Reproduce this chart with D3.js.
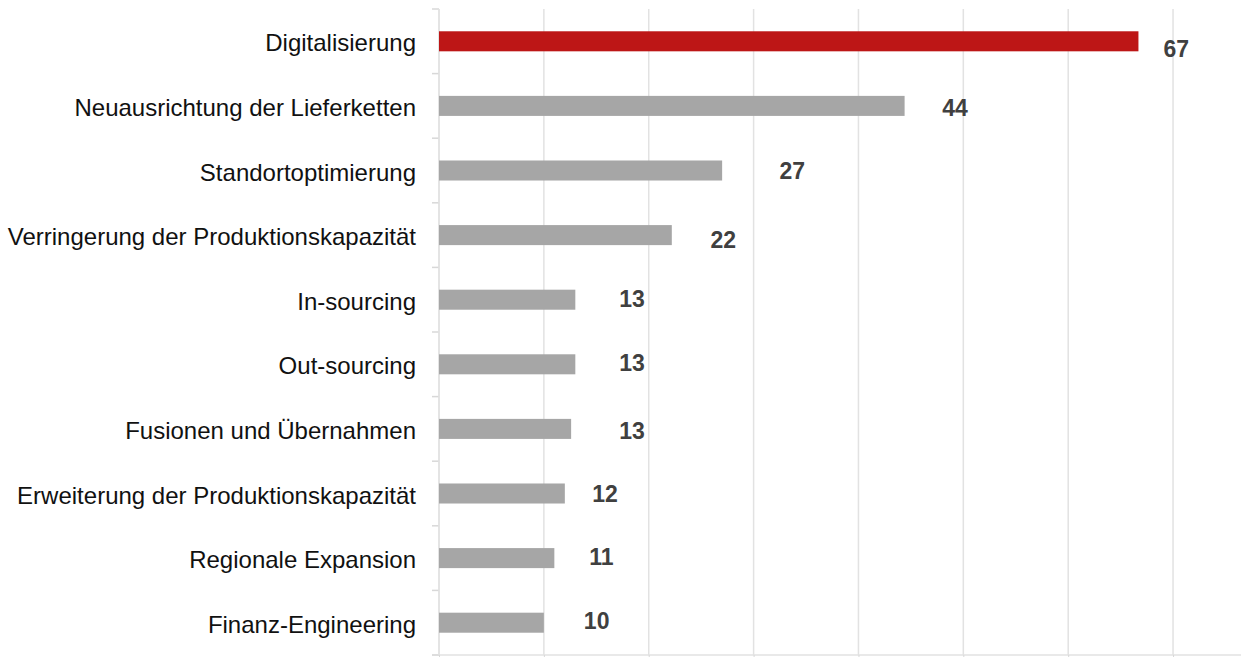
<!DOCTYPE html>
<html>
<head>
<meta charset="utf-8">
<script src="https://cdn.jsdelivr.net/npm/d3@7"></script>
<style>
  body { margin: 0; background: #fff; }
  svg { display: block; font-family: "Liberation Sans", Arial, Helvetica, sans-serif; }
</style>
</head>
<body>
<div id="chart"></div>
<script>
//
// data
//
var categories = ['Digitalisierung', 'Neuausrichtung der Lieferketten', 'Standortoptimierung',
  'Verringerung der Produktionskapazität', 'In-sourcing', 'Out-sourcing', 'Fusionen und Übernahmen',
  'Erweiterung der Produktionskapazität', 'Regionale Expansion', 'Finanz-Engineering']
var values = [66.7, 44.4, 27, 22.2, 13, 13, 12.6, 12, 11, 10]
var highlight = ['Digitalisierung']
var gridTicks = [0, 10, 20, 30, 40, 50, 60, 70]

var width = 1241, height = 657
var margin = {top: 9, right: 0, bottom: 2, left: 439}

var svg = d3.select('#chart').append('svg')
  .attr('width', width)
  .attr('height', height)

var x = d3.scaleLinear()
  .domain([0, 76.48])
  .range([margin.left, width - margin.right])

var y = d3.scaleBand()
  .domain(categories)
  .range([margin.top, height - margin.bottom])
  .paddingInner(0.69)
  .paddingOuter(0.345)

// gridlines
svg.append('g')
  .selectAll('line')
  .data(gridTicks)
  .join('line')
  .attr('x1', d => x(d)).attr('x2', d => x(d))
  .attr('y1', margin.top).attr('y2', height - margin.bottom)
  .attr('stroke', '#e2e2e2')
  .attr('stroke-width', 1.5)

// bottom axis
var xAxis = svg.append('g')
  .attr('transform', 'translate(0,' + (height - margin.bottom) + ')')
  .call(d3.axisBottom(x).tickValues(gridTicks).tickSize(4).tickFormat(''))
xAxis.select('.domain').attr('stroke', '#e2e2e2').attr('stroke-width', 1.5)
  .attr('d', 'M' + (margin.left - 7) + ',0H' + width)
xAxis.selectAll('.tick line').attr('stroke', '#d8d8d8')

// left axis with ticks between categories
var step = y.step()
var bounds = d3.range(categories.length + 1).map(i => margin.top + i * step)
svg.append('g')
  .selectAll('line')
  .data(bounds)
  .join('line')
  .attr('x1', margin.left - 7).attr('x2', margin.left)
  .attr('y1', d => d).attr('y2', d => d)
  .attr('stroke', '#d8d8d8')
  .attr('stroke-width', 1.5)
svg.append('line')
  .attr('x1', margin.left).attr('x2', margin.left)
  .attr('y1', margin.top).attr('y2', height - margin.bottom)
  .attr('stroke', '#e2e2e2')
  .attr('stroke-width', 1.5)

// bars
svg.append('g')
  .selectAll('rect')
  .data(categories)
  .join('rect')
  .attr('x', x(0))
  .attr('y', d => y(d))
  .attr('width', (d, i) => x(values[i]) - x(0))
  .attr('height', y.bandwidth())
  .attr('fill', d => highlight.includes(d) ? '#bd1616' : '#a6a6a6')

// category labels
svg.append('g')
  .selectAll('text')
  .data(categories)
  .join('text')
  .attr('x', margin.left - 23)
  .attr('y', d => y(d) + y.bandwidth() / 2)
  .attr('dy', '0.42em')
  .attr('text-anchor', 'end')
  .style('font-size', '24px')
  .attr('fill', '#111')
  .text(d => d)

// value labels (hand placed like in the original, nudged from bar end)
var nudgeX = [25, 37.7, 57.3, 38.7, 44, 44, 48, 27.5, 35, 40]
var nudgeY = [15.4, 10.1, 8.8, 12.6, 7.6, 6.4, 10.4, 8.8, 6.9, 6.6]
svg.append('g')
  .selectAll('text')
  .data(categories)
  .join('text')
  .attr('x', (d, i) => x(values[i]) + nudgeX[i])
  .attr('y', (d, i) => y(d) + y.bandwidth() / 2 + nudgeY[i])
  .style('font-size', '23px')
  .style('font-weight', 'bold')
  .attr('fill', '#404040')
  .text((d, i) => d3.format('.0f')(values[i]))
</script>
</body>
</html>
